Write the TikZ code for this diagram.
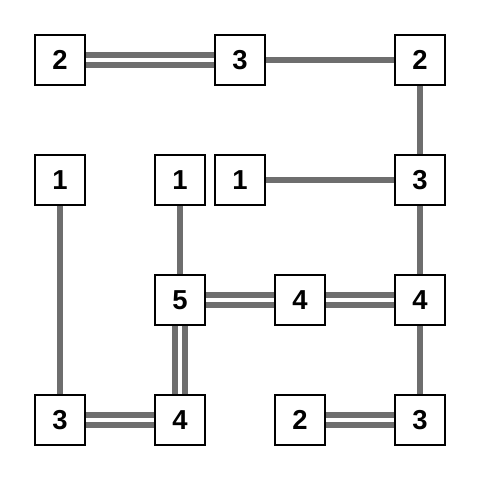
\documentclass[tikz,border=0pt]{standalone}
\usepackage{fontspec}
\setmainfont{Liberation Sans}
\usetikzlibrary{positioning}

\begin{document}
\begin{tikzpicture}[x=1cm, y=1cm,
  isle/.style={draw, line width=1.4pt, fill=white, minimum size=0.833cm, inner sep=0pt,
    font=\fontsize{13}{15}\selectfont\bfseries},
  one/.style={draw=black!57, line width=2.4pt},
  two/.style={draw=black!57, line width=2.6pt, double=white, double distance=2.3pt}]
  \useasboundingbox (0,0) rectangle (8,8);
  \node[isle] (ta) at (1,7) {2};
  \node[isle] (tb) at (4,7) {3};
  \node[isle] (tc) at (7,7) {2};
  \node[isle] (ma) at (1,5) {1};
  \node[isle] (mb) at (3,5) {1};
  \node[isle] (mc) at (4,5) {1};
  \node[isle] (md) at (7,5) {3};
  \node[isle] (ca) at (3,3) {5};
  \node[isle] (cb) at (5,3) {4};
  \node[isle] (cc) at (7,3) {4};
  \node[isle] (ba) at (1,1) {3};
  \node[isle] (bb) at (3,1) {4};
  \node[isle] (bc) at (5,1) {2};
  \node[isle] (bd) at (7,1) {3};
  \draw[two] (ta)--(tb);
  \draw[one] (tb)--(tc);
  \draw[one] (tc)--(md);
  \draw[one] (mc)--(md);
  \draw[one] (ma)--(ba);
  \draw[one] (mb)--(ca);
  \draw[one] (md)--(cc);
  \draw[two] (ca)--(cb);
  \draw[two] (cb)--(cc);
  \draw[two] (ca)--(bb);
  \draw[one] (cc)--(bd);
  \draw[two] (ba)--(bb);
  \draw[two] (bc)--(bd);
\end{tikzpicture}
\end{document}
